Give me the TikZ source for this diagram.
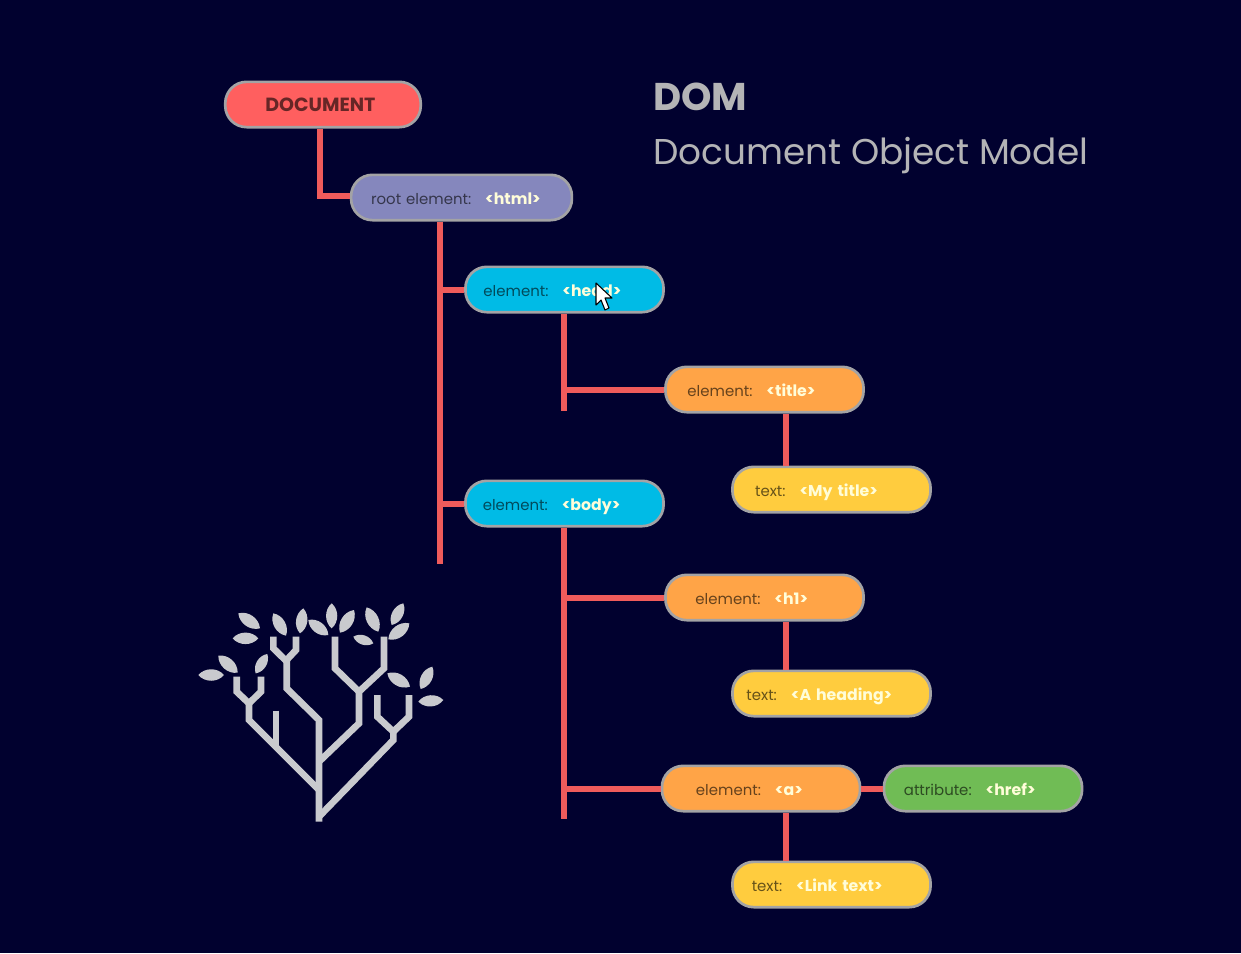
\documentclass[tikz,border=0pt]{standalone}
\usepackage{fontspec}
\setmainfont{Poppins}
\definecolor{bgnavy}{HTML}{01012F}
\definecolor{linkred}{HTML}{EF5B5B}
\definecolor{rimgrey}{HTML}{A3A3A5}
\definecolor{treegrey}{HTML}{C9CACE}
\definecolor{titlegrey}{HTML}{B4B4B6}
\definecolor{docred}{HTML}{FF5F5F}
\definecolor{rootblue}{HTML}{8587BD}
\definecolor{elemcyan}{HTML}{00BBE6}
\definecolor{elemorange}{HTML}{FFA447}
\definecolor{textyellow}{HTML}{FFCC3E}
\definecolor{attrgreen}{HTML}{70BC55}
\newcommand{\boxtext}[3]{\hspace*{#1pt}#2\hspace{10.5pt}\textbf{\fontsize{11.8}{12}\selectfont\textcolor{white!85!yellow}{#3}}}
\tikzset{
  domnode/.style={draw=rimgrey,line width=2pt,rounded corners=16pt,minimum height=34pt,
    inner xsep=0pt,inner ysep=0pt,text width=148.6pt,text height=11pt,text depth=1pt,
    align=left,font=\fontsize{11.2}{12}\selectfont},
  docbox/.style={domnode,fill=#1,text=black!60!#1},
  conn/.style={linkred,line width=4.5pt},
  treeline/.style={treegrey,line width=5pt,line join=miter}
}
\begin{document}
\begin{tikzpicture}[x=0.75pt,y=-0.75pt]
  \useasboundingbox (0,0) rectangle (1241,953);
  \fill[bgnavy] (0,0) rectangle (1241,953);
  \node[docbox=docred,text width=146.6pt] (doc) at (323,104.5) {\hspace*{30pt}\textbf{\fontsize{14.3}{14}\selectfont DOCUMENT}};
  \node[docbox=rootblue,text width=165.6pt] (html) at (461.5,197.5) {\boxtext{15}{root element:}{<html>}};
  \node[docbox=elemcyan] (head) at (564.5,289.5) {\boxtext{13.5}{element:}{<head>}};
  \node[docbox=elemorange] (title) at (764.5,389.5) {\boxtext{16.5}{element:}{<title>}};
  \node[docbox=textyellow] (mytitle) at (831.5,489.5) {\boxtext{17}{text:}{<My title>}};
  \node[docbox=elemcyan] (body) at (564.5,503.5) {\boxtext{13}{element:}{<body>}};
  \node[docbox=elemorange] (hone) at (764.5,597.5) {\boxtext{22.5}{element:}{<h1>}};
  \node[docbox=textyellow] (heading) at (831.5,693.5) {\boxtext{10.5}{text:}{<A heading>}};
  \node[docbox=elemorange] (anchor) at (761,788.5) {\boxtext{25.5}{element:}{<a>}};
  \node[docbox=attrgreen] (href) at (983,788.5) {\boxtext{15}{attribute:}{<href>}};
  \node[docbox=textyellow] (link) at (831.5,884.5) {\boxtext{14.5}{text:}{<Link text>}};

  \coordinate (docbend) at (320,196);
  \coordinate (htmlend) at (440,564);
  \coordinate (headend) at (564,411);
  \coordinate (bodyend) at (564,819);
  \coordinate (textdrop) at (786,0);
  \draw[conn] (docbend |- doc.south) -- (docbend) -- (docbend -| html.west);
  \draw[conn] (htmlend |- html.south) -- (htmlend);
  \draw[conn] (htmlend |- head) -- (head.west);
  \draw[conn] (htmlend |- body) -- (body.west);
  \draw[conn] (head.south -| headend) -- (headend);
  \draw[conn] (headend |- title) -- (title.west);
  \draw[conn] (body.south -| bodyend) -- (bodyend);
  \draw[conn] (bodyend |- hone) -- (hone.west);
  \draw[conn] (bodyend |- anchor) -- (anchor.west);
  \draw[conn] (anchor.east) -- (href.west);
  \foreach \upper/\lower in {title/mytitle,hone/heading,anchor/link}
    \draw[conn] (\upper.south -| textdrop) -- (\lower.north -| textdrop);

  \node[anchor=base west,inner sep=0pt,text=titlegrey,font=\fontsize{29}{30}\selectfont\bfseries] (domtitle) at (653,110) {DOM};
  \node[anchor=base west,inner sep=0pt,text=titlegrey,font=\fontsize{26.9}{30}\selectfont] (domsub) at (653,164) {Document Object Model};

  \begin{scope}[shift={(190,590)},x=0.25pt,y=-0.25pt]
    \draw[treeline] (387,695) -- (387,390) -- (290,295) -- (290,205);
    \draw[treeline] (250,140) -- (250,175) -- (288,212) -- (318,180) -- (318,140);
    \draw[treeline] (387,600) -- (177,390) -- (177,340);
    \draw[treeline] (140,260) -- (140,305) -- (177,340) -- (213,305) -- (213,260);
    \draw[treeline] (258,362) -- (258,470);
    \draw[treeline] (387,515) -- (507,400) -- (507,300);
    \draw[treeline] (435,140) -- (435,235) -- (507,305) -- (582,235) -- (582,140);
    \draw[treeline] (387,680) -- (610,450) -- (610,425);
    \draw[treeline] (562,315) -- (562,380) -- (610,425) -- (657,380) -- (657,315);
    \foreach \ax/\ay/\bx/\by in {145/70/210/115,128/145/205/145,85/197/143/248,25/255/102/255,
      232/192/197/250,250/70/288/137,340/55/330/130,355/90/415/135,425/40/425/115,492/60/450/128,
      530/52/565/125,640/40/605/105,658/100/595/148,490/140/550/160,592/250/660/290,727/230/692/297,
      685/335/760/330}
      \fill[treegrey] (\ax,\ay) to[bend left=50] (\bx,\by) to[bend left=50] (\ax,\ay);
  \end{scope}

  \draw[black,fill=white,line width=0.8pt,line join=round] (596,283) -- (596,305) -- (601,300) -- (605,310) -- (609,308) -- (605,298) -- (612,298) -- cycle;
\end{tikzpicture}
\end{document}
